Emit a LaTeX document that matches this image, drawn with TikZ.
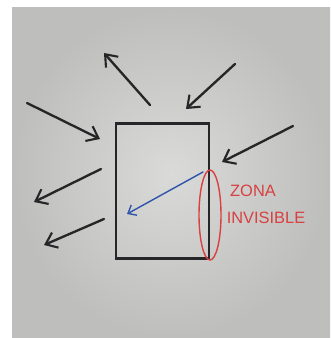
\documentclass[tikz,border=0pt]{standalone}
\usepackage{fontspec}
\setsansfont{Liberation Sans}
\usetikzlibrary{arrows.meta,shapes.geometric}
\definecolor{paperlight}{RGB}{218,218,216}
\definecolor{paperdark}{RGB}{190,190,188}
\definecolor{ink}{RGB}{38,38,40}
\definecolor{bluepen}{RGB}{45,85,170}
\definecolor{redpen}{RGB}{215,65,65}
\begin{document}
\begin{tikzpicture}[x=0.03cm,y=-0.03cm,
  every node/.style={outer sep=0pt, inner sep=0pt},
  pen/.style={line width=2pt, color=ink, line cap=round,
    -{Straight Barb[length=9pt,width=14pt,line width=1.8pt]}},
  bluearrow/.style={line width=1.2pt, color=bluepen, line cap=round,
    -{Straight Barb[length=6pt,width=10pt,line width=1.2pt]}},
  wallbox/.style={draw=ink, line width=1.8pt, minimum width=2.79cm, minimum height=4.05cm},
  zonering/.style={ellipse, draw=redpen, line width=1.2pt, minimum width=0.66cm, minimum height=2.7cm},
  zonetext/.style={text=redpen, font=\sffamily\fontsize{14}{16}\selectfont}]
\useasboundingbox (0,0) rectangle (330,338);
\fill[white] (0,0) rectangle (330,338);
\shade[inner color=paperlight, outer color=paperdark] (12,8) rectangle (330,338);
\node[wallbox] (wall) at (162.5,191) {};
\node[zonering] (zone) at (210,215) {};
\node[zonetext] (zona) at (253,191) {ZONA};
\node[zonetext] (invisible) at (266,218) {INVISIBLE};
\coordinate (a1) at (150,105);
\coordinate (b1) at (104,53);
\coordinate (a2) at (235,64);
\coordinate (b2) at (186,109);
\coordinate (a3) at (27,103);
\coordinate (b3) at (100,139);
\coordinate (a4) at (293,126);
\coordinate (b4) at (222,162);
\coordinate (a5) at (101,169);
\coordinate (b5) at (34,202);
\coordinate (a6) at (104,219);
\coordinate (b6) at (44,245);
\coordinate (a7) at (203,172);
\coordinate (b7) at (127,214);
\draw[pen] (a1) -- (b1);
\draw[pen] (a2) -- (b2);
\draw[pen] (a3) -- (b3);
\draw[pen] (a4) -- (b4);
\draw[pen] (a5) -- (b5);
\draw[pen] (a6) -- (b6);
\draw[bluearrow] (a7) -- (b7);
\end{tikzpicture}
\end{document}
